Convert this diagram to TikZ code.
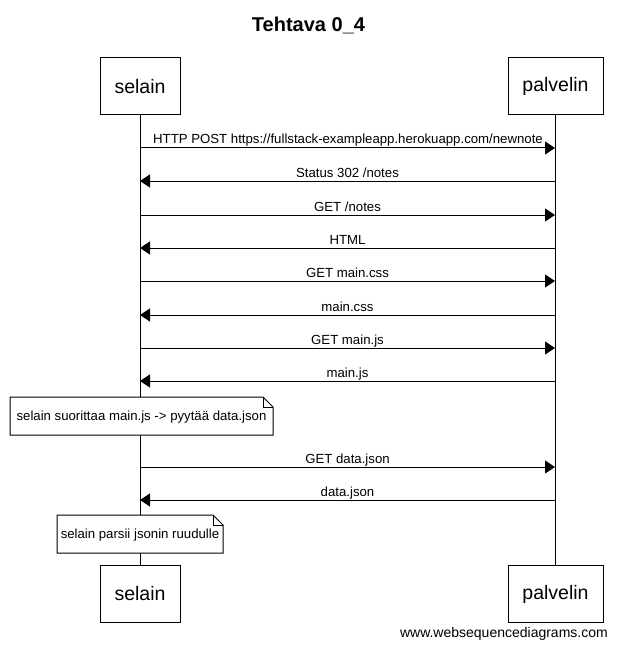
\documentclass[tikz,border=0pt]{standalone}
\usepackage{fontspec}
\setmainfont{Liberation Sans}
\usetikzlibrary{arrows.meta}
\begin{document}
\begin{tikzpicture}[x=1pt,y=-1pt]
\useasboundingbox[fill=white] (0,0) rectangle (617,647);
\tikzset{
  actor/.style={draw,line width=1pt,fill=white,minimum width=80pt,minimum height=57pt,inner sep=0pt,font=\fontsize{19.5}{22}\selectfont},
  msg/.style={line width=1pt,-{Triangle[length=10pt,width=13pt]}},
  lbl/.style={font=\fontsize{13.2}{15}\selectfont,anchor=base,inner sep=0pt},
  notebox/.style={draw,line width=1pt,fill=white},
  notetext/.style={inner sep=0pt,font=\fontsize{13.2}{15}\selectfont},
  life/.style={line width=1pt}
}
% title
\node[font=\bfseries\fontsize{20}{24}\selectfont,anchor=base,inner sep=0pt] (title) at (308.5,32) {Tehtava 0\_4};
% participants
\node[actor] (s1) at (140,86.5) {selain};
\node[actor,minimum width=95pt] (p1) at (555.5,86.5) {palvelin};
\node[actor] (s2) at (140,594) {selain};
\node[actor,minimum width=95pt] (p2) at (555.5,594) {palvelin};
% lifelines
\draw[life] (s1.south) -- (s2.north);
\draw[life] ([xshift=-0.5pt]p1.south) -- ([xshift=-0.5pt]p2.north);
% message end points
\foreach \n/\y in {a/148,b/181,c/215,d/248,e/281,f/315,g/348,h/381,i/467,j/500}{
  \coordinate (s\n) at (140,\y);
  \coordinate (p\n) at (555,\y);
}
% messages
\draw[msg] (sa) -- (pa);
\node[lbl] (la) at (348,144) {HTTP POST https://fullstack-exampleapp.herokuapp.com/newnote};
\draw[msg] (pb) -- (sb);
\node[lbl] (lb) at (347.5,177) {Status 302 /notes};
\draw[msg] (sc) -- (pc);
\node[lbl] (lc) at (347.5,211) {GET /notes};
\draw[msg] (pd) -- (sd);
\node[lbl] (ld) at (347.5,244) {HTML};
\draw[msg] (se) -- (pe);
\node[lbl] (le) at (347.5,277) {GET main.css};
\draw[msg] (pf) -- (sf);
\node[lbl] (lf) at (347.5,311) {main.css};
\draw[msg] (sg) -- (pg);
\node[lbl] (lg) at (347.5,344) {GET main.js};
\draw[msg] (ph) -- (sh);
\node[lbl] (lh) at (347.5,377) {main.js};
% note 1
\coordinate (n1a) at (10,397);
\coordinate (n1b) at (273,435);
\draw[notebox] (n1a) -- ([xshift=-10pt]n1a -| n1b) -- ([yshift=-10pt]n1a -| n1b) -- (n1b) -- (n1a |- n1b) -- cycle;
\draw[line width=1pt] ([xshift=-10pt]n1a -| n1b) -- ++(0,10) -- ++(10,0);
\node[notetext] (note1) at (141.5,417) {selain suorittaa main.js -> pyytää data.json};
% more messages
\draw[msg] (si) -- (pi);
\node[lbl] (li) at (347.5,463) {GET data.json};
\draw[msg] (pj) -- (sj);
\node[lbl] (lj) at (347.5,496) {data.json};
% note 2
\coordinate (n2a) at (57,515);
\coordinate (n2b) at (223,553);
\draw[notebox] (n2a) -- ([xshift=-10pt]n2a -| n2b) -- ([yshift=-10pt]n2a -| n2b) -- (n2b) -- (n2a |- n2b) -- cycle;
\draw[line width=1pt] ([xshift=-10pt]n2a -| n2b) -- ++(0,10) -- ++(10,0);
\node[notetext] (note2) at (140,535) {selain parsii jsonin ruudulle};
% footer
\node[anchor=base east,inner sep=0pt,font=\fontsize{14}{16}\selectfont] (footer) at (608,637) {www.websequencediagrams.com};
\end{tikzpicture}
\end{document}
